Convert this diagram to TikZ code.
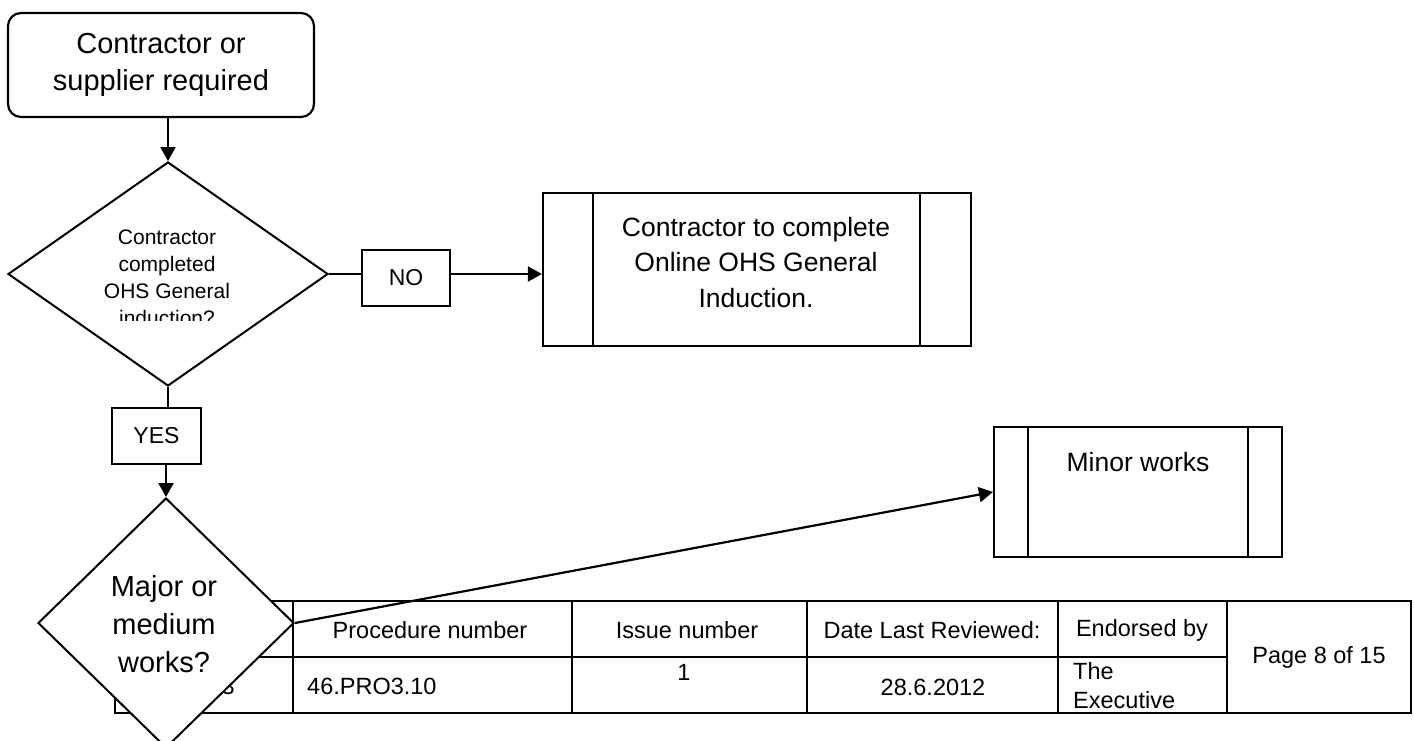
\documentclass[tikz,border=0pt]{standalone}
\usepackage{fontspec}
\setmainfont{Liberation Sans}
\usetikzlibrary{calc,shapes.geometric,arrows.meta}
\tikzset{
	>={Triangle[length=14pt,width=15pt]},
	startbox/.style={
		rectangle,
		rounded corners=13pt,
		draw=black, line width=2.2pt,
		fill=white,
		minimum width=306pt,
		minimum height=104pt,
		align=center,
		font=\fontsize{29pt}{37pt}\selectfont},
	decision/.style={
		diamond,
		draw=black, line width=2pt,
		fill=white,
		inner sep=0pt},
	answer/.style={
		rectangle,
		draw=black, line width=2.2pt,
		fill=white,
		minimum height=56pt,
		font=\fontsize{23pt}{27pt}\selectfont},
	procbox/.style={
		rectangle,
		draw=black, line width=2.2pt,
		fill=white},
	txt/.style={inner sep=0pt, align=center},
	line/.style={draw, line width=2.2pt},
	grid/.style={draw, line width=2.6pt},
	cell/.style={inner sep=0pt, align=left, font=\fontsize{23.5pt}{29pt}\selectfont},
}
\begin{document}
\begin{tikzpicture}[x=1pt, y=-1pt]
	\clip (0,0) rectangle (1414,740);
	% footer table
	\draw[grid] (115,601) rectangle (1411,713);
	\draw[grid] (115,657) -- (1227,657);
	\foreach \x in {293,572,807,1058,1227}
		\draw[grid] (\x,601) -- (\x,713);
	\node[cell, anchor=east] (t1) at (235,686) {3};
	\node[cell] (t2) at (430,630) {Procedure number};
	\node[cell, anchor=west] (t3) at (307,686) {46.PRO3.10};
	\node[cell] (t4) at (687,630) {Issue number};
	\node[cell] (t5) at (684,672) {1};
	\node[cell] (t6) at (932,630) {Date Last Reviewed:};
	\node[cell] (t7) at (933,687) {28.6.2012};
	\node[cell] (t8) at (1142,630) {Endorsed by};
	\node[cell, anchor=west] (t9) at (1073,686) {The\\Executive};
	\node[cell] (t10) at (1319,657) {Page 8 of 15};
	% flow chart
	\node[startbox] (start) at (161,65) {Contractor or\\supplier required};
	\node[decision, minimum width=320pt, minimum height=224pt] (q1) at (168,274) {};
	\begin{scope}
		\clip (0,150) rectangle (400,320);
		\node[txt, font=\fontsize{21pt}{27pt}\selectfont] (q1txt) at (167,277.5)
			{Contractor\\completed\\OHS General\\induction?};
	\end{scope}
	\node[answer, minimum width=88pt] (no) at (406,278) {NO};
	\node[procbox, minimum width=428pt, minimum height=153pt] (online) at (757,269.5) {};
	\node[txt, font=\fontsize{26.5pt}{35.5pt}\selectfont] (onlinetxt) at (756,262.5)
		{Contractor to complete\\Online OHS General\\Induction.};
	\node[answer, minimum width=89pt] (yes) at (156.5,436) {YES};
	\node[decision, minimum width=256pt, minimum height=250pt] (q2) at (166,623) {};
	\node[txt, font=\fontsize{29pt}{38pt}\selectfont] (q2txt) at (164,624)
		{Major or\\medium\\works?};
	\node[procbox, minimum width=288pt, minimum height=130pt] (minor) at (1138,492) {};
	\node[txt, font=\fontsize{26.5pt}{32pt}\selectfont] (minortxt) at (1138,462) {Minor works};
	% inner bars
	\draw[line width=2pt] ($(online.north west)+(51,0)$) -- ($(online.south west)+(51,0)$);
	\draw[line width=2pt] ($(online.north east)+(-52,0)$) -- ($(online.south east)+(-52,0)$);
	\draw[line width=2pt] ($(minor.north west)+(35,0)$) -- ($(minor.south west)+(35,0)$);
	\draw[line width=2pt] ($(minor.north east)+(-35,0)$) -- ($(minor.south east)+(-35,0)$);
	% connectors
	\draw[line, ->] (start.south -| q1.north) -- (q1.north);
	\draw[line] (q1.east) -- (q1.east -| no.west);
	\draw[line, ->] (no.east |- q1.east) -- (q1.east -| online.west);
	\draw[line] (q1.south) -- (q1.south |- yes.north);
	\draw[line, ->] (yes.south -| q2.north) -- (q2.north);
	\draw[line, ->] (q2.east) -- (minor.west);
\end{tikzpicture}
\end{document}
